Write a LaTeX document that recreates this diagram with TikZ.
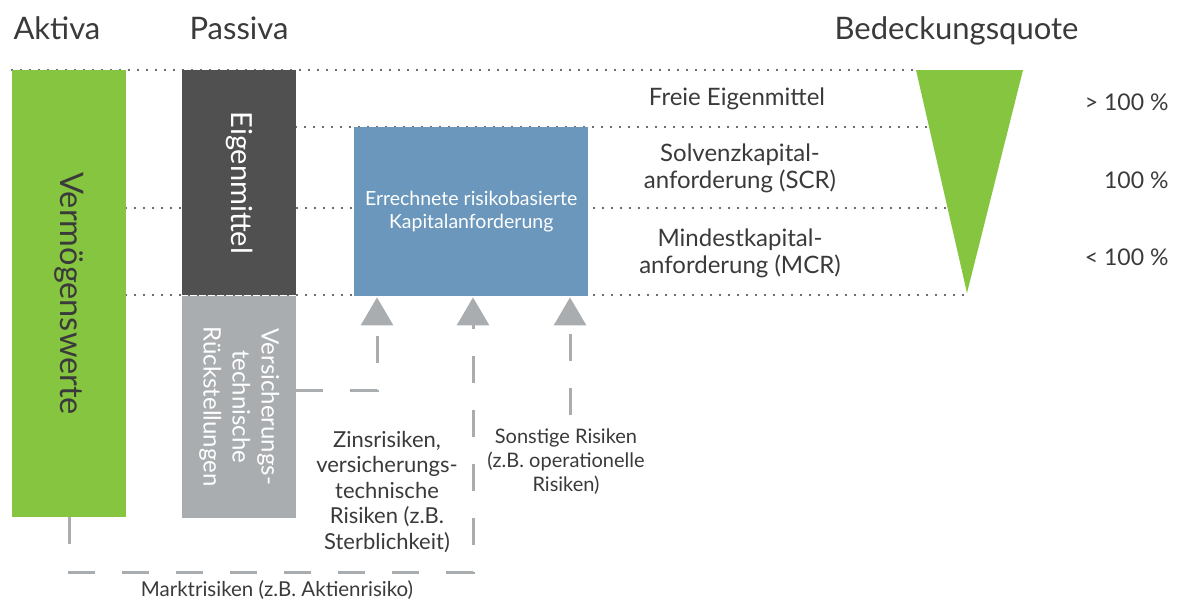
\documentclass[tikz,border=0pt]{standalone}
\usepackage{fontspec}
\setmainfont{Lato}
\usetikzlibrary{arrows.meta,positioning,calc}
\definecolor{ink}{RGB}{58,58,58}
\definecolor{aktivgreen}{RGB}{134,197,64}
\definecolor{eigengray}{RGB}{80,80,80}
\definecolor{vtgray}{RGB}{170,173,175}
\definecolor{calcblue}{RGB}{106,151,187}
\tikzset{
  colbox/.style={inner sep=0pt,anchor=north west},
  guide/.style={line width=2.2pt,draw=ink,line cap=round,
    dash pattern=on 0pt off 9pt},
  riskline/.style={line width=3pt,draw=vtgray,
    dash pattern=on 27pt off 27pt,
    -{Triangle[width=32pt,length=28pt,fill=vtgray]}},
  head/.style={font=\fontsize{31}{36}\selectfont,text=ink,anchor=base west},
  levtext/.style={font=\fontsize{24}{27}\selectfont,text=ink,align=center},
  pcttext/.style={font=\fontsize{23}{24}\selectfont,text=ink,anchor=base east},
  risktext/.style={text=ink,align=center}
}
\begin{document}
\begin{tikzpicture}[x=1pt,y=-1pt]
  \useasboundingbox (0,0) rectangle (1182,602);
  % headings
  \node[head] (aktiva) at (10,40) {Aktiva};
  \node[head] (passiva) at (186,40) {Passiva};
  \node[head] (quote) at (831,40) {Bedeckungsquote};

  % dotted level lines (behind the boxes)
  \draw[guide] (12,70) -- (918,70);
  \draw[guide] (296,127) -- (928,127);
  \draw[guide] (126,208) -- (947,208);
  \draw[guide] (126,295) -- (967,295);

  % columns
  \node[colbox,fill=aktivgreen,minimum width=114,minimum height=447]
    (verm) at (12,70) {};
  \node[rotate=-90,font=\fontsize{32.5}{36}\selectfont,text=ink]
    at (verm.center) {Vermögenswerte};
  \node[colbox,fill=eigengray,minimum width=114,minimum height=225]
    (eigen) at (182,70) {};
  \node[rotate=-90,font=\fontsize{29}{30}\selectfont,text=white]
    at (eigen.center) {Eigenmittel};
  \node[colbox,fill=vtgray,minimum width=114,minimum height=222]
    (vt) at (eigen.south west) {};
  \node[rotate=-90,font=\fontsize{24}{29}\selectfont,text=white,align=center]
    at (vt.center) {Versicherungs-\\technische\\Rückstellungen};
  \node[colbox,fill=calcblue,minimum width=234,minimum height=169]
    (calc) at (354,127) {};
  \node[font=\fontsize{19.5}{23}\selectfont,text=white,align=center]
    at (calc.center) {Errechnete risikobasierte\\Kapitalanforderung};

  % coverage ratio
  \fill[aktivgreen] (916,70) coordinate (qa) -- (1023,70) coordinate (qb)
    -- (967,293) coordinate (qc) -- cycle;

  % levels
  \node[levtext] (free) at (737,99) {Freie Eigenmittel};
  \node[levtext] (scr) at (740,168) {Solvenzkapital-\\anforderung (SCR)};
  \node[levtext] (mcr) at (740,253) {Mindestkapital-\\anforderung (MCR)};
  \node[pcttext] (p1) at (1172,110) {> 100 \%};
  \node[pcttext] (p2) at (1172,188) {100 \%};
  \node[pcttext] (p3) at (1172,265) {< 100 \%};

  % risks
  \coordinate (t1) at ($(calc.south west)+(23,1)$);
  \coordinate (t2) at ($(calc.south west)+(119,1)$);
  \coordinate (t3) at ($(calc.south west)+(216,1)$);
  \coordinate (s1) at (vt.east |- 0,390);
  \coordinate (s3) at (t3 |- 0,415);
  \draw[riskline] (s1) -| (t1);
  \draw[riskline] (verm.south) -- ++(0,55) -| (t2);
  \draw[riskline] (s3) -- (t3);

  \node[risktext,font=\fontsize{22}{25.5}\selectfont] (zins) at (387,492)
    {Zinsrisiken,\\versicherungs-\\technische\\Risiken (z.B.\\Sterblichkeit)};
  \node[risktext,font=\fontsize{20}{24}\selectfont] (sonst) at (566,462)
    {Sonstige Risiken\\(z.B. operationelle\\Risiken)};
  \node[risktext,font=\fontsize{20.5}{22}\selectfont] (markt) at (277,590)
    {Marktrisiken (z.B. Aktienrisiko)};
\end{tikzpicture}
\end{document}
